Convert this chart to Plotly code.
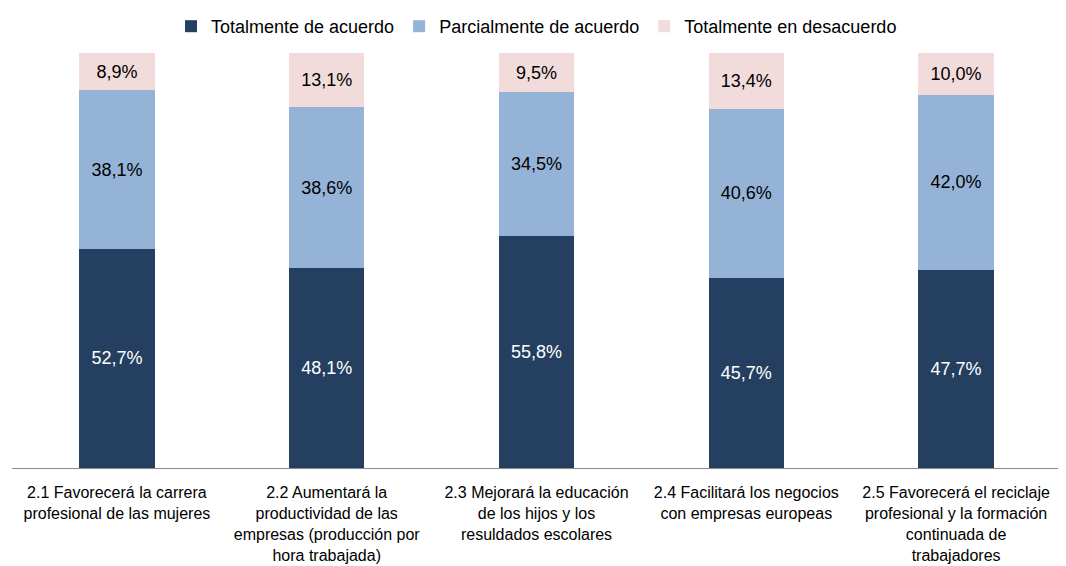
import plotly.graph_objects as go

categorias = [
    "2.1 Favorecerá la carrera<br>profesional de las mujeres",
    "2.2 Aumentará la<br>productividad de las<br>empresas (producción por<br>hora trabajada)",
    "2.3 Mejorará la educación<br>de los hijos y los<br>resuldados escolares",
    "2.4 Facilitará los negocios<br>con empresas europeas",
    "2.5 Favorecerá el reciclaje<br>profesional y la formación<br>continuada de<br>trabajadores",
]
totalmente_acuerdo = [52.7, 48.1, 55.8, 45.7, 47.7]
parcialmente_acuerdo = [38.1, 38.6, 34.5, 40.6, 42.0]
totalmente_desacuerdo = [8.9, 13.1, 9.5, 13.4, 10.0]

series = [
    ("Totalmente de acuerdo", totalmente_acuerdo, "#243F60", "white"),
    ("Parcialmente de acuerdo", parcialmente_acuerdo, "#95B3D7", "black"),
    ("Totalmente en desacuerdo", totalmente_desacuerdo, "#F2DCDB", "black"),
]

fig = go.Figure()
for nombre, valores, color, color_txt in series:
    fig.add_trace(go.Bar(
        x=categorias,
        y=valores,
        name=nombre,
        marker=dict(color=color, line=dict(width=0)),
        texttemplate="%{y:.1f}%",
        textposition="inside",
        insidetextanchor="middle",
        textfont=dict(color=color_txt, size=18),
        hoverinfo="skip",
    ))

# la página html añade 8px de margen al cuerpo; se compensa en los márgenes
fig.update_layout(
    barmode="stack",
    bargap=0.64,
    separators=",.",
    width=1066,
    height=566,
    paper_bgcolor="white",
    plot_bgcolor="white",
    font=dict(family="Liberation Sans, Arial", size=16, color="black"),
    margin=dict(l=4, r=13, t=44, b=106, autoexpand=False),
    legend=dict(
        orientation="h",
        x=0.5,
        xanchor="center",
        y=1.0,
        yanchor="top",
        yref="container",
        font=dict(size=18),
        itemwidth=30,
        traceorder="normal",
    ),
    xaxis=dict(
        showline=True,
        linecolor="#8C8C8C",
        linewidth=1,
        ticks="outside",
        ticklen=10,
        tickcolor="rgba(0,0,0,0)",
        tickfont=dict(size=16),
        automargin=False,
    ),
    yaxis=dict(
        range=[0, 100],
        visible=False,
        automargin=False,
    ),
)

fig.write_html("out.html")
